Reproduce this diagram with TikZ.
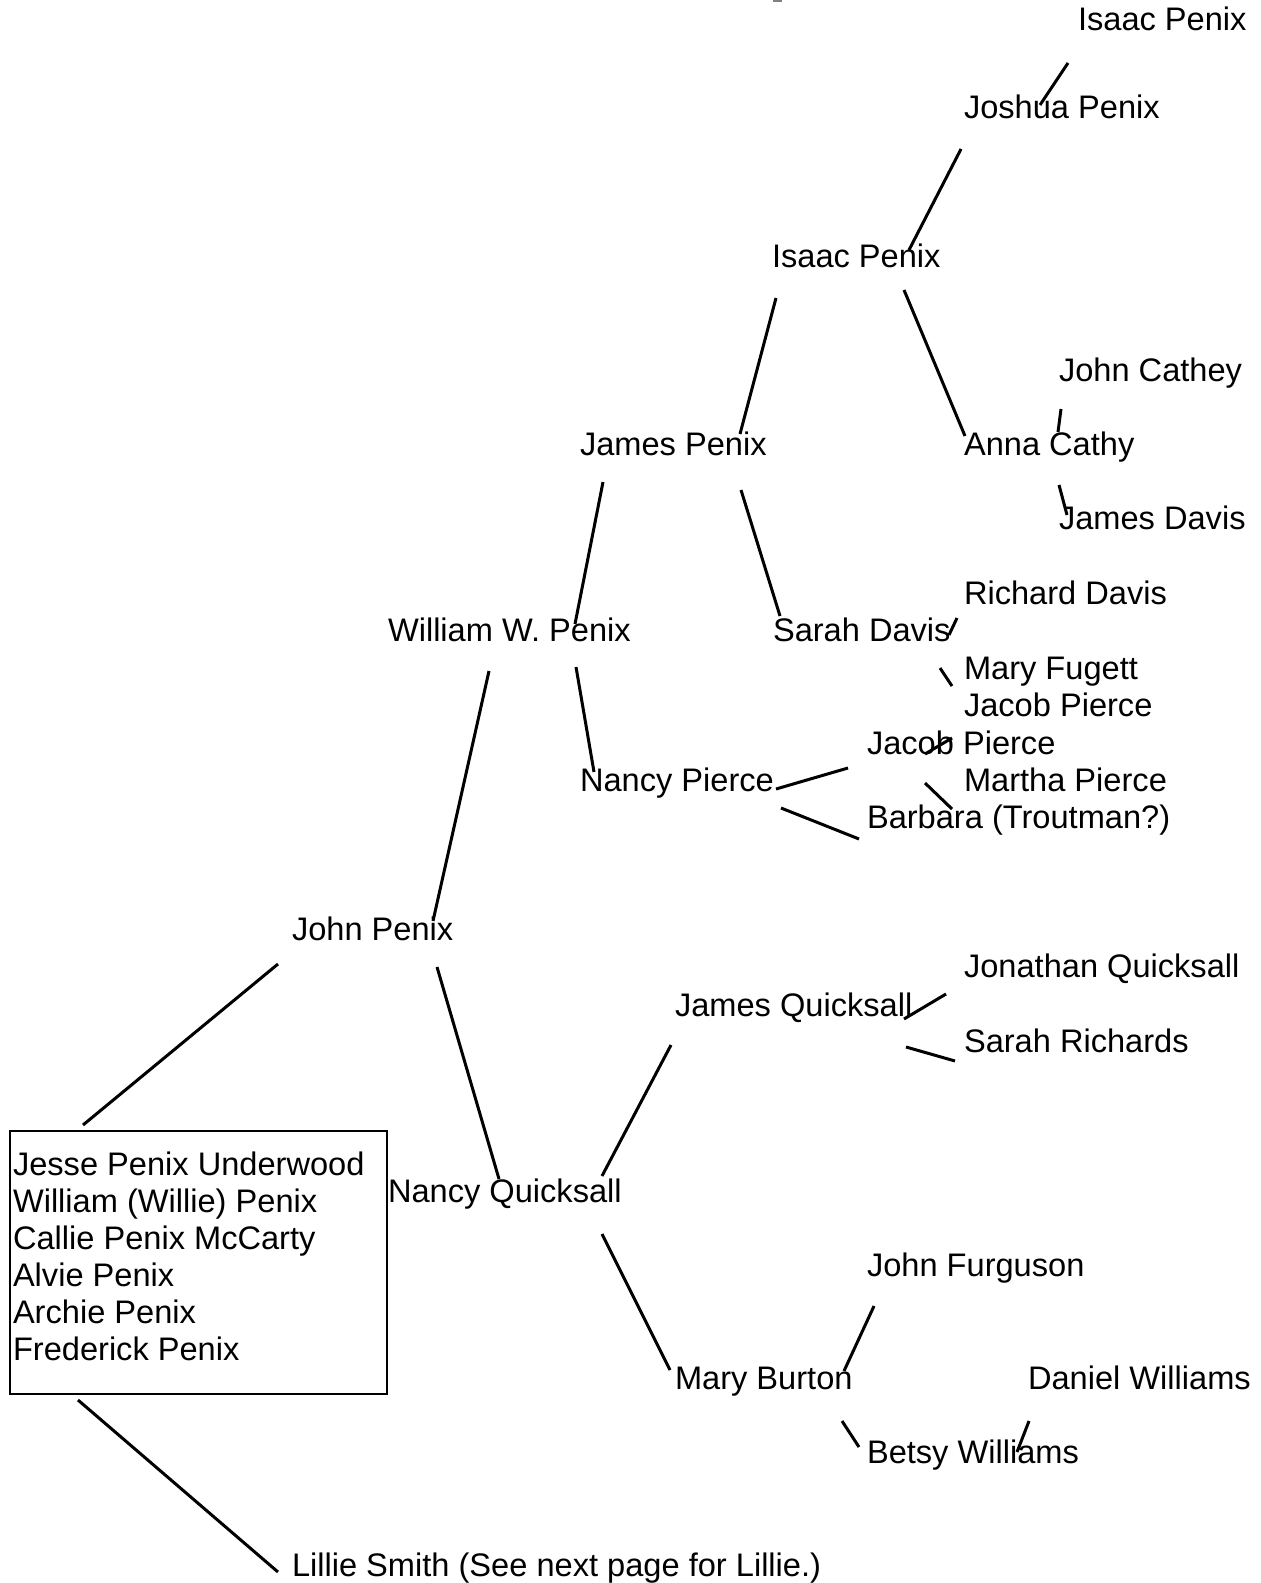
\documentclass[tikz,border=0pt]{standalone}
\usepackage{fontspec}
\setmainfont{Liberation Sans}
\newcommand\famlink[6]{\draw[link] ([shift={(#2,#3)}]#1.base west) -- ([shift={(#5,#6)}]#4.base west);}
\begin{document}
\begin{tikzpicture}[x=0.5pt,y=-0.5pt,
  person/.style={anchor=base west, inner sep=0pt, outer sep=0pt, font=\fontsize{16.3}{18.5}\selectfont},
  link/.style={line width=1.5pt},
  kidbox/.style={draw, line width=1pt, anchor=north west, inner sep=0pt, outer sep=0pt,
    minimum width=188.5pt, minimum height=131.5pt}]
\useasboundingbox (0,0) rectangle (1260,1583);
\fill[gray] (773,0) rectangle (782,2);
% people
\node[person] (isaacA) at (1078,31) {Isaac Penix};
\node[person] (joshua) at (964,119) {Joshua Penix};
\node[person] (isaacB) at (772,268) {Isaac Penix};
\node[person] (johnCathey) at (1059,381) {John Cathey};
\node[person] (jamesPenix) at (580,455) {James Penix};
\node[person] (annaCathy) at (964,455) {Anna Cathy};
\node[person] (jamesDavis) at (1059,529) {James Davis};
\node[person] (richardDavis) at (964,604) {Richard Davis};
\node[person] (williamW) at (388,641) {William W. Penix};
\node[person] (sarahDavis) at (773,641) {Sarah Davis};
\node[person] (maryFugett) at (964,679) {Mary Fugett};
\node[person] (jacobR) at (964,716) {Jacob Pierce};
\node[person] (jacobM) at (867,754) {Jacob Pierce};
\node[person] (nancyPierce) at (580,791) {Nancy Pierce};
\node[person] (marthaPierce) at (964,791) {Martha Pierce};
\node[person] (barbara) at (867,828) {Barbara (Troutman?)};
\node[person] (johnPenix) at (292,940) {John Penix};
\node[person] (jonathan) at (964,977) {Jonathan Quicksall};
\node[person] (jamesQ) at (675,1016) {James Quicksall};
\node[person] (sarahRichards) at (964,1052) {Sarah Richards};
\node[person] (nancyQ) at (388,1202) {Nancy Quicksall};
\node[person] (johnFurguson) at (867,1276) {John Furguson};
\node[person] (maryBurton) at (675,1389) {Mary Burton};
\node[person] (danielWilliams) at (1028,1389) {Daniel Williams};
\node[person] (betsy) at (867,1463) {Betsy Williams};
\node[person] (lillie) at (292,1576) {Lillie Smith (See next page for Lillie.)};
\node[kidbox] (kids) at (10,1131) {};
\node[person, align=left] (kidsText) at (13,1360) {Jesse Penix Underwood\\William (Willie) Penix\\Callie Penix McCarty\\Alvie Penix\\Archie Penix\\Frederick Penix};
% connectors
\famlink{isaacA}{-10}{32}{joshua}{76}{-14}
\famlink{joshua}{-3}{30}{isaacB}{137}{-18}
\famlink{isaacB}{4}{30}{jamesPenix}{160}{-21}
\famlink{isaacB}{132}{22}{annaCathy}{1}{-19}
\famlink{johnCathey}{2}{28}{annaCathy}{94}{-23}
\famlink{annaCathy}{95}{30}{jamesDavis}{8}{-14}
\famlink{jamesPenix}{23}{27}{williamW}{187}{-17}
\famlink{jamesPenix}{161}{35}{sarahDavis}{7}{-25}
\famlink{richardDavis}{-7}{14}{sarahDavis}{176}{-6}
\famlink{sarahDavis}{167}{27}{maryFugett}{-12}{7}
\famlink{jacobM}{58}{0}{jacobR}{-12}{22}
\famlink{jacobM}{58}{29}{marthaPierce}{-12}{18}
\famlink{nancyPierce}{196}{-2}{jacobM}{-19}{14}
\famlink{nancyPierce}{201}{17}{barbara}{-8}{11}
\famlink{williamW}{188}{26}{nancyPierce}{14}{-19}
\famlink{williamW}{101}{30}{johnPenix}{141}{-19}
\draw[link] ([shift={(-14,24)}]johnPenix.base west) -- ([shift={(73,-6)}]kids.north west);
\famlink{johnPenix}{145}{27}{nancyQ}{111}{-23}
\draw[link] ([shift={(68,6)}]kids.south west) -- ([shift={(-14,-4)}]lillie.base west);
\famlink{jamesQ}{-4}{29}{nancyQ}{214}{-26}
\famlink{nancyQ}{214}{32}{maryBurton}{-5}{-19}
\famlink{jamesQ}{229}{3}{jonathan}{-18}{17}
\famlink{jamesQ}{231}{31}{sarahRichards}{-9}{9}
\famlink{maryBurton}{169}{-18}{johnFurguson}{7}{30}
\famlink{maryBurton}{167}{32}{betsy}{-8}{-16}
\famlink{betsy}{150}{-11}{danielWilliams}{1}{32}
\end{tikzpicture}
\end{document}
